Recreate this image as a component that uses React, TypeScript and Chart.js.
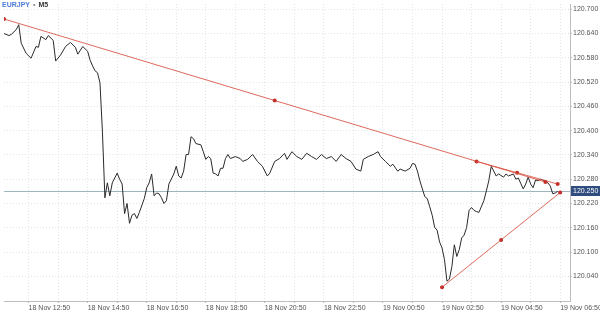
import React, { useEffect, useRef } from "react";
import { Chart, registerables } from "chart.js";
Chart.register(...registerables);

const symbolName = "EURJPY";
const timeframe = "M5";

// minutes since 18 Nov 00:00
const times = [
  720, 730, 735, 745, 750, 755, 765, 775, 785, 790, 795, 805, 810, 820, 825, 835, 845, 855, 865, 870,
  880, 890, 895, 900, 905, 910, 915, 920, 925, 930, 935, 940, 950, 955, 960, 965, 970, 975, 980, 985,
  990, 995, 1005, 1010, 1015, 1020, 1025, 1030, 1035, 1040, 1045, 1050, 1055, 1065, 1070, 1075, 1080, 1085, 1090, 1095,
  1100, 1105, 1110, 1120, 1125, 1130, 1135, 1140, 1145, 1150, 1155, 1160, 1165, 1170, 1175, 1180, 1190, 1200, 1205, 1215,
  1225, 1235, 1245, 1255, 1260, 1270, 1280, 1290, 1295, 1305, 1315, 1325, 1335, 1345, 1355, 1365, 1375, 1385, 1395, 1405,
  1415, 1425, 1435, 1445, 1450, 1460, 1470, 1480, 1485, 1495, 1505, 1510, 1520, 1525, 1535, 1545, 1550, 1555, 1560, 1565,
  1570, 1575, 1580, 1585, 1590, 1595, 1600, 1605, 1610, 1615, 1620, 1625, 1630, 1635, 1640, 1645, 1650, 1655, 1660, 1665,
  1670, 1675, 1680, 1685, 1695, 1700, 1705, 1710, 1720, 1725, 1735, 1740, 1745, 1755, 1760, 1765, 1775, 1780, 1785, 1790,
  1795, 1800, 1805, 1810, 1815, 1825, 1830, 1835, 1840, 1845,
];
const prices = [
  120.640, 120.635, 120.638, 120.650, 120.662, 120.616, 120.591, 120.579, 120.608, 120.606, 120.633, 120.625, 120.635, 120.623, 120.572, 120.587, 120.608, 120.618, 120.606, 120.589,
  120.608, 120.596, 120.574, 120.560, 120.548, 120.543, 120.518, 120.397, 120.234, 120.271, 120.239, 120.271, 120.295, 120.280, 120.268, 120.195, 120.220, 120.171, 120.191, 120.195,
  120.183, 120.198, 120.232, 120.259, 120.271, 120.293, 120.239, 120.246, 120.244, 120.234, 120.220, 120.227, 120.268, 120.293, 120.312, 120.288, 120.283, 120.300, 120.341, 120.341,
  120.385, 120.380, 120.368, 120.365, 120.348, 120.329, 120.336, 120.331, 120.295, 120.293, 120.288, 120.307, 120.307, 120.331, 120.341, 120.331, 120.336, 120.331, 120.324, 120.329,
  120.341, 120.324, 120.312, 120.288, 120.295, 120.324, 120.331, 120.344, 120.329, 120.348, 120.336, 120.329, 120.344, 120.336, 120.329, 120.341, 120.331, 120.336, 120.324, 120.341,
  120.331, 120.324, 120.305, 120.300, 120.329, 120.336, 120.341, 120.348, 120.336, 120.324, 120.312, 120.317, 120.300, 120.305, 120.300, 120.307, 120.319, 120.317, 120.300, 120.276,
  120.256, 120.237, 120.232, 120.212, 120.191, 120.161, 120.154, 120.125, 120.110, 120.081, 120.028, 120.033, 120.064, 120.118, 120.089, 120.106, 120.135, 120.142, 120.161, 120.203,
  120.210, 120.203, 120.200, 120.198, 120.227, 120.251, 120.276, 120.312, 120.288, 120.293, 120.285, 120.293, 120.288, 120.293, 120.280, 120.283, 120.256, 120.268, 120.285, 120.268,
  120.259, 120.278, 120.276, 120.280, 120.278, 120.271, 120.263, 120.244, 120.246, 120.250,
];
const currentPrice = 120.25;

const trend1Times = [720, 1270, 1820];
const trend1Values = [120.676, 120.4745, 120.273];
const trend2Times = [1680, 1762.5, 1845];
const trend2Values = [120.324, 120.296, 120.268];
const trend3Times = [1610, 1730, 1850];
const trend3Values = [120.013, 120.13, 120.247];

const xMin = 720;
const xMax = 1870;
const yMin = 119.979;
const yMax = 120.713;
const yTicks = [120.04, 120.1, 120.16, 120.22, 120.28, 120.34, 120.4, 120.46, 120.52, 120.58, 120.64, 120.7];
const xTicks = [770, 830, 890, 950, 1010, 1070, 1130, 1190, 1250, 1310, 1370, 1430, 1490, 1550, 1610, 1670, 1730, 1790, 1850];
const xLabelStart = 770;
const xLabelStep = 120;

function formatTime(t: number): string {
  const day = 18 + Math.floor(t / 1440);
  const m = t % 1440;
  const hh = String(Math.floor(m / 60)).padStart(2, "0");
  const mm = String(m % 60).padStart(2, "0");
  return `${day} Nov ${hh}:${mm}`;
}

const FONT = '"Liberation Sans", Arial, sans-serif';

const overlay = {
  id: "overlay",
  beforeDatasetsDraw(chart: any) {
    const { ctx, chartArea, scales } = chart;
    const y = Math.round(scales.y.getPixelForValue(currentPrice)) + 0.5;
    ctx.save();
    ctx.strokeStyle = "#9fb6bf";
    ctx.lineWidth = 1;
    ctx.beginPath();
    ctx.moveTo(chartArea.left, y);
    ctx.lineTo(chartArea.right, y);
    ctx.stroke();
    ctx.restore();
  },
  afterDraw(chart: any) {
    const { ctx, chartArea, scales } = chart;
    const y = Math.round(scales.y.getPixelForValue(currentPrice));
    ctx.save();
    ctx.fillStyle = "#2f4d7e";
    ctx.fillRect(chartArea.right + 1, y - 5, 40, 10);
    ctx.fillStyle = "#ffffff";
    ctx.font = `7px ${FONT}`;
    ctx.textBaseline = "middle";
    ctx.textAlign = "left";
    ctx.fillText(currentPrice.toFixed(3), chartArea.right + 3, y + 0.5);

    // title
    ctx.font = `600 7px ${FONT}`;
    let x = chartArea.left - 2;
    const ty = 5;
    ctx.fillStyle = "#4a7bd6";
    ctx.fillText(symbolName, x, ty);
    x += ctx.measureText(symbolName).width + 3;
    ctx.fillStyle = "#8a8a8a";
    ctx.fillText("\u2022", x, ty);
    x += ctx.measureText("\u2022").width + 3;
    ctx.fillStyle = "#333333";
    ctx.fillText(timeframe, x, ty);
    ctx.restore();
  },
};

function toPts(xs: number[], ys: number[]) {
  return xs.map((x, i) => ({ x, y: ys[i] }));
}

export default function App() {
  const ref = useRef<HTMLCanvasElement>(null);
  useEffect(() => {
    document.body.style.margin = "0";
    const trendStyle = {
      borderColor: "rgba(216,80,64,0.85)",
      borderWidth: 1,
      pointRadius: 2,
      pointBackgroundColor: "#c3302a",
      pointBorderWidth: 0,
      tension: 0,
    };
    const chart = new Chart(ref.current!, {
      type: "line",
      data: {
        datasets: [
          { data: toPts(trend1Times, trend1Values), ...trendStyle } as any,
          { data: toPts(trend2Times, trend2Values), ...trendStyle } as any,
          { data: toPts(trend3Times, trend3Values), ...trendStyle } as any,
          {
            data: toPts(times, prices),
            borderColor: "#2a2a2a",
            borderWidth: 1,
            pointRadius: 0,
            tension: 0,
          } as any,
        ],
      },
      options: {
        animation: false,
        responsive: false,
        layout: { padding: 0 },
        plugins: { legend: { display: false }, tooltip: { enabled: false } },
        scales: {
          x: {
            type: "linear",
            min: xMin,
            max: xMax,
            afterBuildTicks: (s: any) => {
              s.ticks = xTicks.map((v) => ({ value: v }));
            },
            afterFit: (s: any) => {
              s.height = 15;
              s.paddingLeft = 0;
              s.paddingRight = 0;
            },
            ticks: {
              autoSkip: false,
              maxRotation: 0,
              minRotation: 0,
              align: "start",
              padding: 1,
              color: "#555555",
              font: { size: 7, family: FONT },
              callback: (v: any) => ((Number(v) - xLabelStart) % xLabelStep === 0 ? formatTime(Number(v)) : ""),
            },
            grid: { color: "#e4e4e4", tickLength: 2, tickColor: "#bbbbbb" },
            border: { display: true, color: "#bdbdbd", width: 1, dash: [1, 2] },
          },
          y: {
            type: "linear",
            position: "right",
            min: yMin,
            max: yMax,
            afterBuildTicks: (s: any) => {
              s.ticks = yTicks.map((v) => ({ value: v }));
            },
            afterFit: (s: any) => {
              s.width = 30;
              s.paddingTop = 0;
              s.paddingBottom = 0;
            },
            ticks: {
              padding: 1,
              color: "#555555",
              font: { size: 7, family: FONT },
              callback: (v: any) => Number(v).toFixed(3),
            },
            grid: { color: "#e4e4e4", tickLength: 2, tickColor: "#bbbbbb" },
            border: { display: true, color: "#bdbdbd", width: 1, dash: [1, 2] },
          },
        },
      },
      plugins: [overlay],
    });
    return () => chart.destroy();
  }, []);
  return <canvas ref={ref} width={600} height={316} style={{ display: "block" }} />;
}
